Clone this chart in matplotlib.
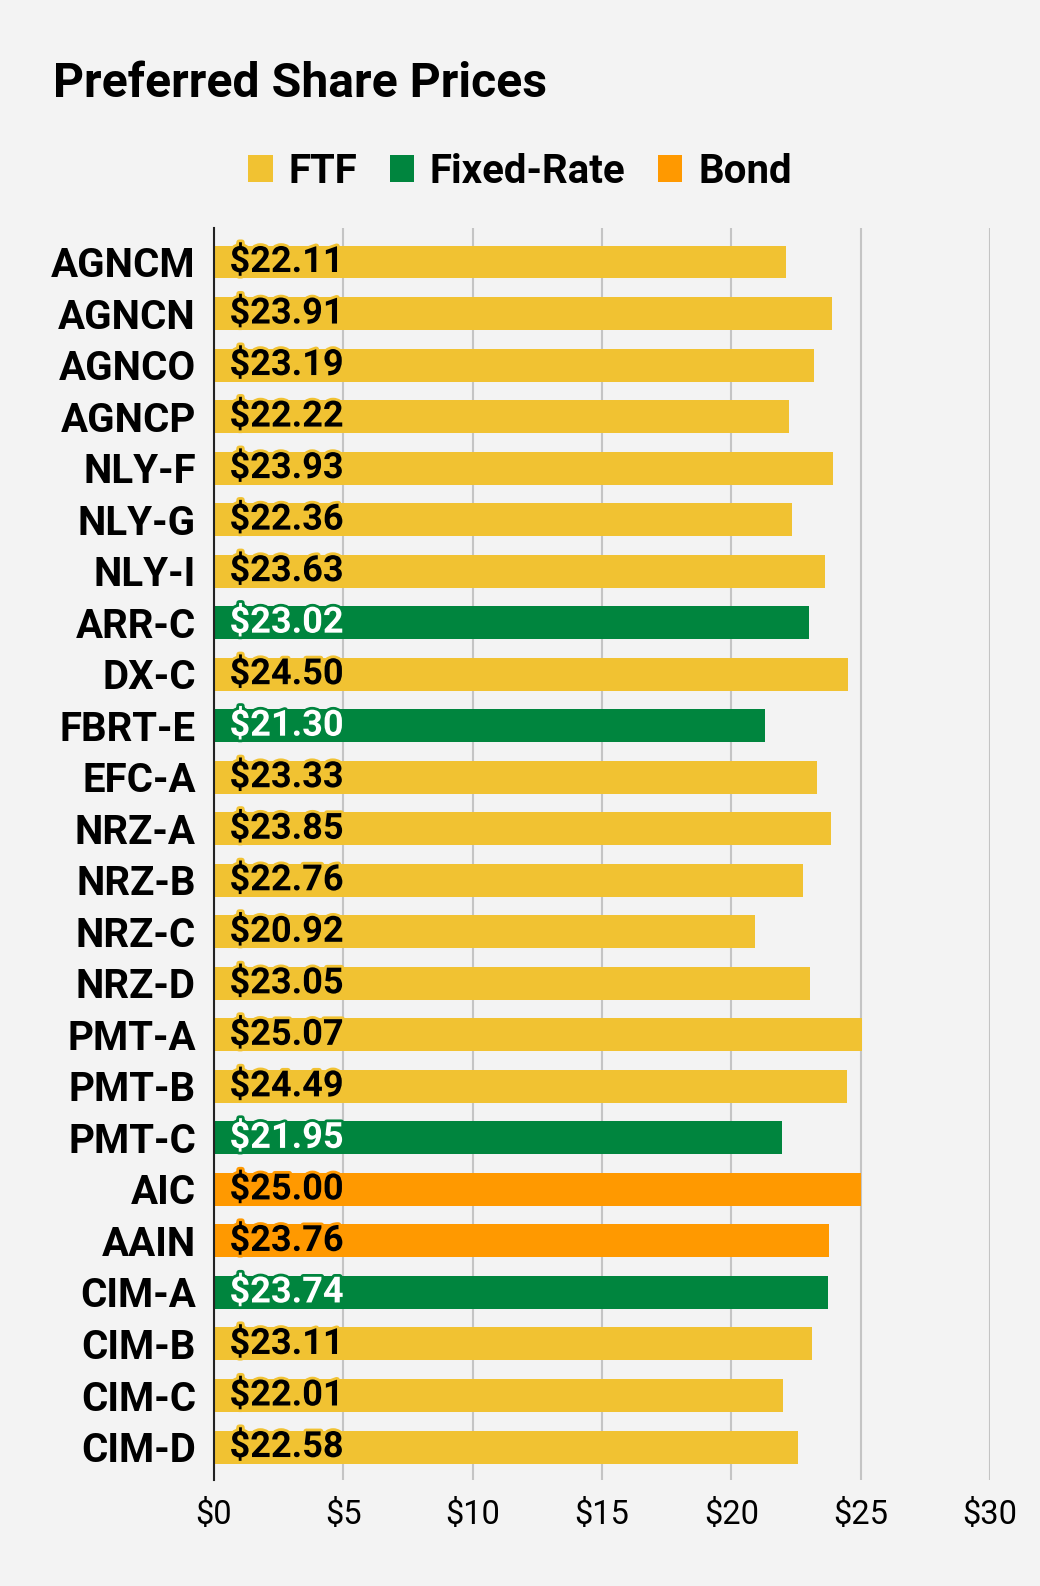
import matplotlib
matplotlib.use("Agg")
import matplotlib.pyplot as plt
import matplotlib.patheffects as pe
from matplotlib.patches import Patch

plt.rcParams['font.family'] = ['Roboto', 'DejaVu Sans']

# data
tickers = ['AGNCM', 'AGNCN', 'AGNCO', 'AGNCP', 'NLY-F', 'NLY-G', 'NLY-I', 'ARR-C',
           'DX-C', 'FBRT-E', 'EFC-A', 'NRZ-A', 'NRZ-B', 'NRZ-C', 'NRZ-D', 'PMT-A',
           'PMT-B', 'PMT-C', 'AIC', 'AAIN', 'CIM-A', 'CIM-B', 'CIM-C', 'CIM-D']
prices = [22.11, 23.91, 23.19, 22.22, 23.93, 22.36, 23.63, 23.02,
          24.50, 21.30, 23.33, 23.85, 22.76, 20.92, 23.05, 25.07,
          24.49, 21.95, 25.00, 23.76, 23.74, 23.11, 22.01, 22.58]
kinds = ['FTF', 'FTF', 'FTF', 'FTF', 'FTF', 'FTF', 'FTF', 'Fixed-Rate',
         'FTF', 'Fixed-Rate', 'FTF', 'FTF', 'FTF', 'FTF', 'FTF', 'FTF',
         'FTF', 'Fixed-Rate', 'Bond', 'Bond', 'Fixed-Rate', 'FTF', 'FTF', 'FTF']
xticks = [0, 5, 10, 15, 20, 25, 30]

colors = {'FTF': '#f1c232', 'Fixed-Rate': '#00853e', 'Bond': '#ff9900'}
txtcol = {'FTF': 'black', 'Fixed-Rate': 'white', 'Bond': 'black'}
bg = '#f3f3f3'

fig = plt.figure(figsize=(10.4, 15.86), dpi=100, facecolor=bg)
ax = fig.add_axes([214/1040, 1 - 1480/1586, (990-214)/1040, (1480-228)/1586])
ax.set_facecolor(bg)

ypos = list(range(len(tickers)))
bar_cols = [colors[k] for k in kinds]
ax.barh(ypos, prices, height=0.64, color=bar_cols, zorder=2)

for y, p, k in zip(ypos, prices, kinds):
    t = ax.text(0.6, y, '$%.2f' % p, ha='left', va='center', fontsize=26,
                fontweight='bold', color=txtcol[k], zorder=3)
    t.set_path_effects([pe.Stroke(linewidth=4, foreground=colors[k]), pe.Normal()])

ax.set_xlim(0, 30)
ax.set_ylim(len(tickers) - 1 + 0.64, -0.66)
ax.set_yticks(ypos)
ax.set_yticklabels(tickers, fontsize=29, fontweight='bold')
ax.set_xticks(xticks)
ax.set_xticklabels(['$%d' % v for v in xticks], fontsize=23.5)
ax.tick_params(axis='y', length=0, pad=13)
ax.tick_params(axis='x', length=0, pad=14)

ax.grid(axis='x', color='#c4c4c4', linewidth=1.5, zorder=0)
ax.set_axisbelow(True)
for s in ['top', 'right', 'bottom']:
    ax.spines[s].set_visible(False)
ax.spines['left'].set_color('#222222')
ax.spines['left'].set_linewidth(1.5)
ax.spines['left'].set_zorder(4)

fig.text(53/1040, 1 - 97/1586, 'Preferred Share Prices', fontsize=34.7,
         fontweight='bold', va='baseline', ha='left')

handles = [Patch(facecolor=colors[n], edgecolor='none', label=n)
           for n in ['FTF', 'Fixed-Rate', 'Bond']]
leg = fig.legend(handles=handles, loc='center', bbox_to_anchor=(520/1040, 1 - 172/1586),
                 ncol=3, frameon=False, handlelength=0.6, handleheight=0.65,
                 handletextpad=0.4, columnspacing=0.8,
                 prop={'size': 29, 'weight': 'bold'})

fig.savefig('out.png', dpi=100, facecolor=bg)
